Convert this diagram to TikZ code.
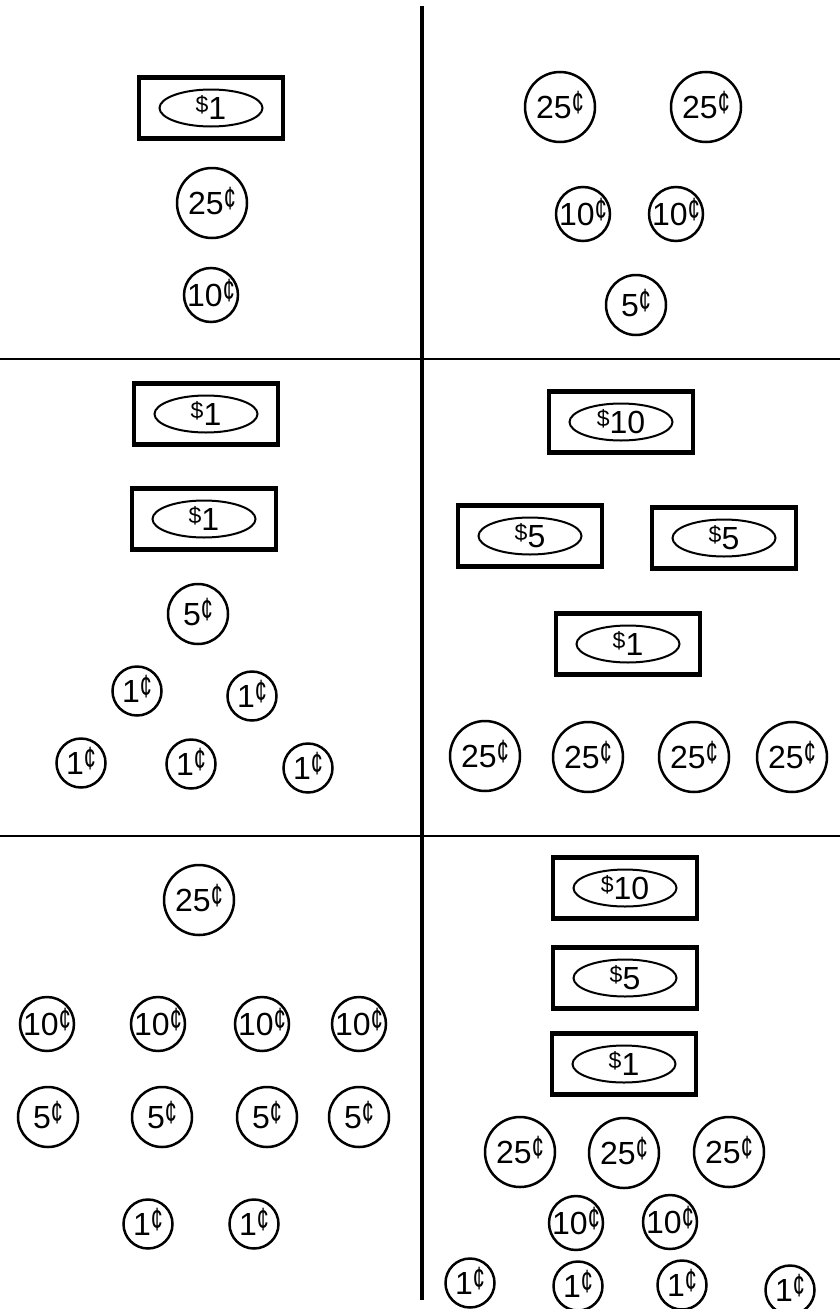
\documentclass[tikz,border=0pt]{standalone}
\usepackage{fontspec}
\usepackage{graphicx}
\setmainfont{Liberation Sans}
\usetikzlibrary{shapes.geometric}
\newcommand{\coinv}[1]{#1\raisebox{5pt}{\scalebox{0.8}[1.2]{\fontsize{27}{27}\selectfont ¢}}}
\newcommand{\billv}[1]{\raisebox{0pt}{\raisebox{7pt}{\fontsize{23}{23}\selectfont \$}#1}}
\tikzset{
  coin/.style={circle, draw, line width=2.5pt, inner sep=0pt, text height=23pt, text depth=0pt, font=\fontsize{32}{32}\selectfont},
  q25/.style={coin, minimum size=70pt},
  d10/.style={coin, minimum size=54pt},
  n5/.style={coin, minimum size=60pt},
  p1/.style={coin, minimum size=49pt},
  billbox/.style={rectangle, draw, line width=4.5pt, minimum width=144pt, minimum height=61pt, inner sep=0pt},
  billoval/.style={ellipse, draw, line width=2pt, minimum width=103pt, minimum height=37pt, inner sep=0pt, text height=23pt, text depth=0pt, font=\fontsize{32}{32}\selectfont},
  divider/.style={line width=2.5pt},
  spine/.style={line width=4.5pt},
}
\newcommand{\putbill}[4]{\node[billbox] (#1) at (#2,#3) {}; \node[billoval] (#1o) at (#1) {\billv{#4}};}
\begin{document}
\begin{tikzpicture}[x=1pt,y=-1pt]
\useasboundingbox (0,0) rectangle (840,1309);
% dividers
\coordinate (h1l) at (0,359); \coordinate (h1r) at (840,359);
\coordinate (h2l) at (0,836); \coordinate (h2r) at (840,836);
\coordinate (vt) at (422,6); \coordinate (vb) at (422,1300);
\draw[divider] (h1l) -- (h1r);
\draw[divider] (h2l) -- (h2r);
\draw[spine] (vt) -- (vb);
% top left
\putbill{ba}{211}{108}{1}
\node[q25] (ca1) at (212,203) {\coinv{25}};
\node[d10] (ca2) at (211,295) {\coinv{10}};
% top right
\node[q25] (cb1) at (560,107) {\coinv{25}};
\node[q25] (cb2) at (706,107) {\coinv{25}};
\node[d10] (cb3) at (583,214) {\coinv{10}};
\node[d10] (cb4) at (676,214) {\coinv{10}};
\node[n5] (cb5) at (636,305) {\coinv{5}};
% middle left
\putbill{bc1}{206}{414}{1}
\putbill{bc2}{204}{519}{1}
\node[n5] (cc1) at (198,614) {\coinv{5}};
\node[p1] (cc2) at (137,691) {\coinv{1}};
\node[p1] (cc3) at (252,696) {\coinv{1}};
\node[p1] (cc4) at (81,763) {\coinv{1}};
\node[p1] (cc5) at (191,764) {\coinv{1}};
\node[p1] (cc6) at (308,768) {\coinv{1}};
% middle right
\putbill{bd1}{621}{422}{10}
\putbill{bd2}{530}{536}{5}
\putbill{bd3}{724}{538}{5}
\putbill{bd4}{628}{644}{1}
\node[q25] (cd1) at (485,756) {\coinv{25}};
\node[q25] (cd2) at (588,757) {\coinv{25}};
\node[q25] (cd3) at (694,757) {\coinv{25}};
\node[q25] (cd4) at (792,757) {\coinv{25}};
% bottom left
\node[q25] (ce1) at (199,900) {\coinv{25}};
\node[d10] (ce2) at (47,1024) {\coinv{10}};
\node[d10] (ce3) at (158,1024) {\coinv{10}};
\node[d10] (ce4) at (262,1024) {\coinv{10}};
\node[d10] (ce5) at (359,1024) {\coinv{10}};
\node[n5] (ce6) at (48,1117) {\coinv{5}};
\node[n5] (ce7) at (162,1117) {\coinv{5}};
\node[n5] (ce8) at (267,1117) {\coinv{5}};
\node[n5] (ce9) at (359,1117) {\coinv{5}};
\node[p1] (ce10) at (148,1224) {\coinv{1}};
\node[p1] (ce11) at (254,1224) {\coinv{1}};
% bottom right
\putbill{bf1}{625}{888}{10}
\putbill{bf2}{625}{978}{5}
\putbill{bf3}{624}{1064}{1}
\node[q25] (cf1) at (520,1152) {\coinv{25}};
\node[q25] (cf2) at (624,1153) {\coinv{25}};
\node[q25] (cf3) at (729,1152) {\coinv{25}};
\node[d10] (cf4) at (576,1223) {\coinv{10}};
\node[d10] (cf5) at (670,1222) {\coinv{10}};
\node[p1] (cf6) at (470,1283) {\coinv{1}};
\node[p1] (cf7) at (578,1286) {\coinv{1}};
\node[p1] (cf8) at (682,1285) {\coinv{1}};
\node[p1] (cf9) at (790,1290) {\coinv{1}};
\end{tikzpicture}
\end{document}
